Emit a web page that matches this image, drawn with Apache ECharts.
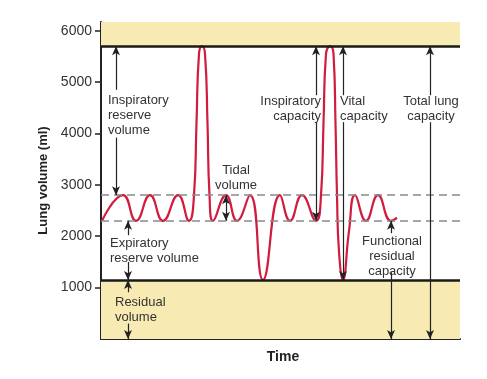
<!DOCTYPE html>
<html>
<head>
<meta charset="utf-8">
<script src="https://cdn.jsdelivr.net/npm/echarts@6/dist/echarts.min.js"></script>
<style>
html,body{margin:0;padding:0;background:#fff;}
#c{width:487px;height:379px;}
</style>
</head>
<body>
<div id="c"></div>
<script>
// ---- data ----
const yTicks = [1000, 2000, 3000, 4000, 5000, 6000];
const waveTime = [1, 22, 35, 49, 62, 77, 88, 93, 95.5, 98, 101, 104, 106.5, 108.5, 112, 125, 136, 149, 162, 179, 189, 201, 215, 220, 222.5, 225, 229, 232.5, 234.5, 236, 238, 242, 248, 254, 265, 277, 290, 296];
const waveVolume = [2300, 2800, 2300, 2800, 2300, 2800, 2300, 2800, 4200, 5550, 5700, 5550, 4200, 2800, 2300, 2800, 2300, 2800, 1150, 2800, 2300, 2800, 2300, 2800, 4200, 5550, 5700, 5550, 4200, 2800, 1700, 1150, 2100, 2800, 2300, 2800, 2300, 2360];
const TLC = 5700, TIDAL_TOP = 2800, FRC = 2300, RV = 1150;
// arrows: [time, fromVolume, toVolume, doubleHeaded]
const arrowTime = [15, 15, 125, 27, 27, 27, 27, 215, 215, 242, 242, 329, 329, 290, 290];
const arrowFrom = [4850, 3920, 2800, 2020, 1500, 910, 300, 4745, 4220, 4745, 4220, 4745, 4220, 2060, 1300];
const arrowTo = [5700, 2800, 2300, 2300, 1150, 1150, 0, 5700, 2300, 5700, 1150, 5700, 0, 2300, 0];
const arrowDouble = [false, false, true, false, false, false, false, false, false, false, false, false, false, false, false];
const labels = [
  {t: 'Inspiratory\nreserve\nvolume', x: 108, y: 115.5, a: 'left'},
  {t: 'Tidal\nvolume', x: 236, y: 177.5, a: 'center'},
  {t: 'Inspiratory\ncapacity', x: 321, y: 108.5, a: 'right'},
  {t: 'Vital\ncapacity', x: 340, y: 108.5, a: 'left'},
  {t: 'Total lung\ncapacity', x: 431, y: 108.5, a: 'center'},
  {t: 'Expiratory\nreserve volume', x: 110, y: 250.5, a: 'left'},
  {t: 'Residual\nvolume', x: 115, y: 309.5, a: 'left'},
  {t: 'Functional\nresidual\ncapacity', x: 392, y: 256, a: 'center'}
];

const FONT = '"Liberation Sans", Arial, Helvetica, sans-serif';
const chart = echarts.init(document.getElementById('c'), null, {renderer: 'canvas'});

const wave = waveTime.map((t, i) => [t, waveVolume[i]]);
const arrowData = arrowTime.map((t, i) => [
  {coord: [t, arrowFrom[i]], symbol: arrowDouble[i] ? 'arrow' : 'none'},
  {coord: [t, arrowTo[i]], symbol: 'arrow'}
]);

chart.setOption({
  animation: false,
  backgroundColor: '#fff',
  grid: {left: 101, right: 27, top: 22, bottom: 40, containLabel: false},
  xAxis: {
    type: 'value', min: 0, max: 359,
    name: 'Time', nameLocation: 'middle', nameGap: 11,
    nameTextStyle: {fontFamily: FONT, fontSize: 14, fontWeight: 'bold', color: '#222', padding: [0, 0, 0, 5]},
    axisLine: {show: true, lineStyle: {color: '#222', width: 2}},
    axisTick: {show: false}, axisLabel: {show: false}, splitLine: {show: false}
  },
  yAxis: {
    type: 'value', min: 0, max: 6170, interval: 1000,
    name: 'Lung volume (ml)', nameLocation: 'middle', nameGap: 50, nameRotate: 90,
    nameTextStyle: {fontFamily: FONT, fontSize: 13, fontWeight: 'bold', color: '#222'},
    axisLine: {show: true, lineStyle: {color: '#222', width: 2}},
    axisTick: {show: true, length: 6, lineStyle: {color: '#222', width: 1.5}, customValues: yTicks},
    axisLabel: {fontFamily: FONT, fontSize: 14, color: '#333', margin: 9, customValues: yTicks,
      formatter: v => yTicks.indexOf(v) >= 0 ? String(v) : ''},
    splitLine: {show: false}
  },
  series: [
    {
      type: 'line', data: [], silent: true,
      markArea: {
        silent: true,
        itemStyle: {color: '#f7ebb3'},
        data: [
          [{yAxis: 0}, {yAxis: RV}],
          [{yAxis: TLC}, {yAxis: 6170}]
        ]
      },
      markLine: {
        silent: true, symbol: 'none', label: {show: false},
        data: [
          {yAxis: TIDAL_TOP, lineStyle: {color: '#8a8a8a', width: 1.5, type: [8, 5]}},
          {yAxis: FRC, lineStyle: {color: '#8a8a8a', width: 1.5, type: [8, 5]}},
          {yAxis: TLC, lineStyle: {color: '#1a1a1a', width: 2.5, type: 'solid'}},
          {yAxis: RV, lineStyle: {color: '#1a1a1a', width: 2.5, type: 'solid'}}
        ]
      }
    },
    {
      type: 'line', data: wave, smooth: 0.5, showSymbol: false, silent: true, z: 3,
      lineStyle: {color: '#d01c3e', width: 2.2}
    },
    {
      type: 'line', data: [], silent: true, z: 4,
      markLine: {
        silent: true, symbolSize: [6, 9], label: {show: false},
        lineStyle: {color: '#222', width: 1.2, type: 'solid'},
        data: arrowData
      }
    }
  ],
  graphic: labels.map(l => ({
    type: 'text', x: l.x, y: l.y, z: 100,
    style: {text: l.t, fill: '#333', font: '13px ' + FONT, align: l.a, verticalAlign: 'middle', lineHeight: 15}
  }))
});
</script>
</body>
</html>
